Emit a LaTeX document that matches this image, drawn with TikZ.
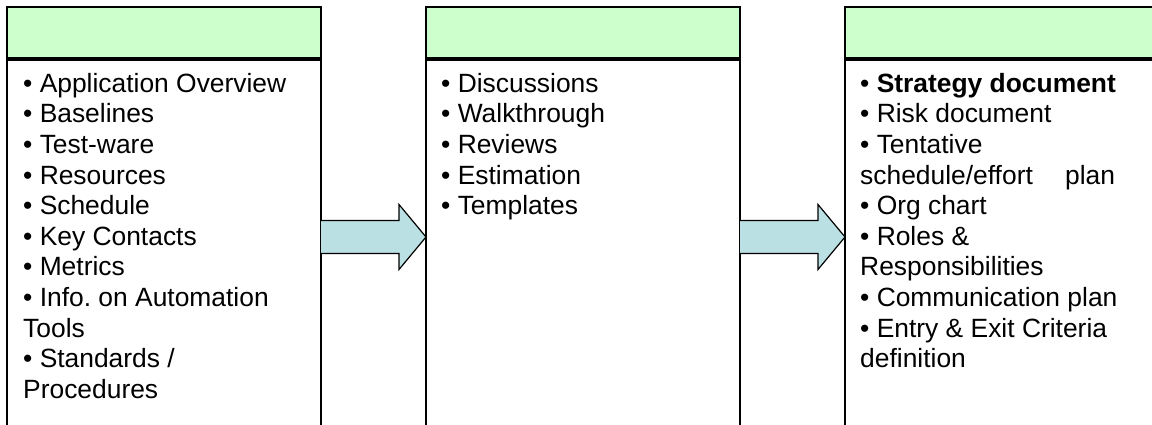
\documentclass[tikz,border=0pt]{standalone}
\usepackage{fontspec}
\setmainfont{Liberation Sans}
\usetikzlibrary{calc}
\definecolor{hdrgreen}{RGB}{204,255,204}
\definecolor{arrowfill}{RGB}{186,224,227}
\frenchspacing
\begin{document}
\begin{tikzpicture}[x=1pt,y=-1pt,
  panel/.style={draw=black, line width=1.6pt, minimum width=314pt, inner sep=0pt,
    outer sep=0pt, anchor=north west},
  hdr/.style={panel, fill=hdrgreen, minimum height=51pt},
  body/.style={panel, minimum height=380pt},
  items/.style={anchor=north west, inner sep=0pt, align=left,
    font=\fontsize{26.4}{30.6}\selectfont},
  flow/.style={draw=black, line width=1.2pt, fill=arrowfill, line join=miter}
]
\clip (0,0) rectangle (1152,425);

% three stages: green header above a white list panel
\node[hdr]  (h1) at (7,7)   {};
\node[body] (b1) at (7,60)  {};
\node[hdr]  (h2) at (426,7) {};
\node[body] (b2) at (426,60) {};
\node[hdr]  (h3) at (845,7) {};
\node[body] (b3) at (845,60) {};

% list contents
\node[items] (l1) at (23,73) {• Application Overview\\• Baselines\\• Test-ware\\• Resources\\• Schedule\\• Key Contacts\\• Metrics\\• Info. on Automation\\Tools\\• Standards /\\Procedures};
\node[items] (l2) at (441,73) {• Discussions\\• Walkthrough\\• Reviews\\• Estimation\\• Templates};
\node[items] (l3) at (860,73) {• \textbf{Strategy document}\\• Risk document\\• Tentative\\schedule/effort\hspace{25pt} plan\\• Org chart\\• Roles \&\\Responsibilities\\• Communication plan\\• Entry \& Exit Criteria\\definition};

% block arrows between the panels
\coordinate (m1) at (b1.east |- 0,237);
\coordinate (t1) at (b2.west |- 0,237);
\coordinate (m2) at (b2.east |- 0,237);
\coordinate (t2) at (b3.west |- 0,237);
\foreach \s/\t in {m1/t1, m2/t2}{
  \draw[flow] ($(\s)+(0,-16.5)$) -- ($(\t)+(-27,-16.5)$) -- ($(\t)+(-27,-32.5)$)
    -- (\t) -- ($(\t)+(-27,32.5)$) -- ($(\t)+(-27,16.5)$) -- ($(\s)+(0,16.5)$);
}
\end{tikzpicture}
\end{document}
